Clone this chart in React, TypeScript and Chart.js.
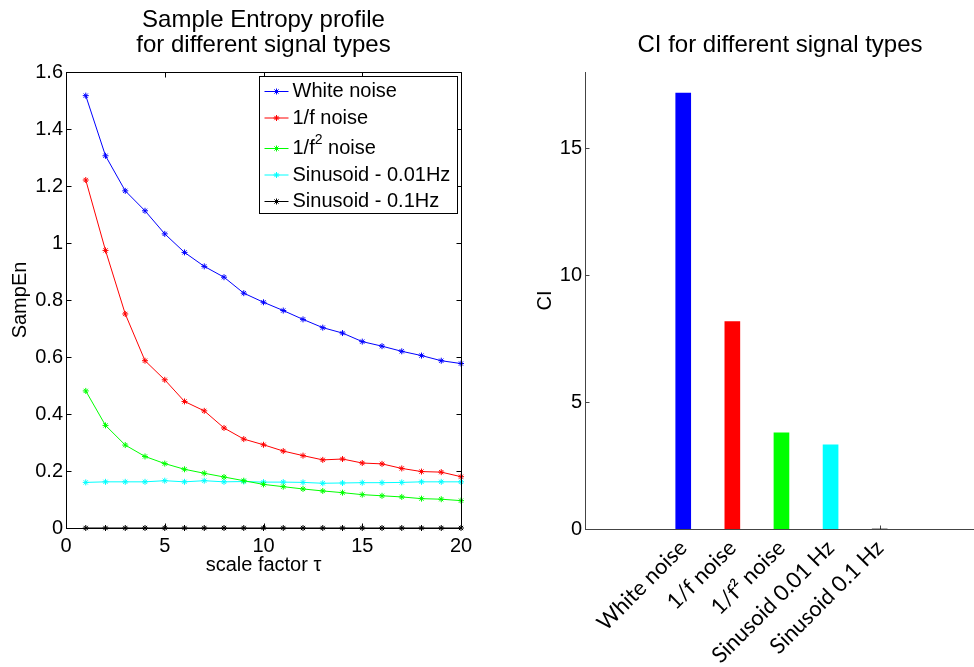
import React, { useEffect, useRef } from "react";
import { Chart, registerables } from "chart.js";
import { drawPoint } from "chart.js/helpers";

Chart.register(...registerables);

// ---------- data: Sample Entropy profile ----------
const SCALE_FACTORS = [1, 2, 3, 4, 5, 6, 7, 8, 9, 10, 11, 12, 13, 14, 15, 16, 17, 18, 19, 20];
const WHITE_NOISE = [1.517, 1.306, 1.183, 1.113, 1.032, 0.967, 0.918, 0.88, 0.824, 0.792, 0.763, 0.732, 0.703, 0.684, 0.654, 0.638, 0.62, 0.605, 0.587, 0.577];
const PINK_NOISE = [1.221, 0.974, 0.751, 0.587, 0.52, 0.444, 0.411, 0.351, 0.312, 0.292, 0.27, 0.254, 0.239, 0.242, 0.228, 0.225, 0.209, 0.198, 0.196, 0.18];
const BROWN_NOISE = [0.481, 0.36, 0.291, 0.251, 0.226, 0.206, 0.192, 0.179, 0.166, 0.153, 0.145, 0.137, 0.13, 0.124, 0.117, 0.113, 0.109, 0.103, 0.101, 0.096];
const SINE_001HZ = [0.16, 0.162, 0.162, 0.162, 0.166, 0.162, 0.166, 0.162, 0.163, 0.161, 0.161, 0.16, 0.157, 0.158, 0.159, 0.159, 0.16, 0.162, 0.162, 0.162];
const SINE_01HZ = [0, 0, 0, 0, 0, 0, 0, 0, 0, 0, 0, 0, 0, 0, 0, 0, 0, 0, 0, 0];
const SERIES_LABELS = ["White noise", "1/f noise", "1/f² noise", "Sinusoid - 0.01Hz", "Sinusoid - 0.1Hz"];
const SERIES_COLORS = ["#0000ff", "#ff0000", "#00ff00", "#00ffff", "#000000"];
const LEFT_X_TICKS = [0, 5, 10, 15, 20];
const LEFT_Y_TICKS = [0, 0.2, 0.4, 0.6, 0.8, 1, 1.2, 1.4, 1.6];
const LEFT_TITLE = ["Sample Entropy profile", "for different signal types"];

// ---------- data: CI ----------
const CI_CATEGORIES = ["White noise", "1/f noise", "1/f² noise", "Sinusoid 0.01 Hz", "Sinusoid 0.1 Hz"];
const CI_VALUES = [17.17, 8.17, 3.79, 3.32, 0];
const CI_Y_TICKS = [0, 5, 10, 15];
const RIGHT_TITLE = "CI for different signal types";

const ARIAL = "'Liberation Sans', Arial, sans-serif";
const CALIBRI_LIKE = "Lato, 'Open Sans', sans-serif";

Chart.defaults.font.family = ARIAL;
Chart.defaults.color = "#000";

const sampEnFrame = {
  id: "sampEnFrame",
  afterDraw(chart: any) {
    const { ctx, chartArea } = chart;
    const xs = chart.scales.x;
    const ys = chart.scales.y;
    const L = Math.round(chartArea.left) + 0.5;
    const R = Math.round(chartArea.right) + 0.5;
    const T = Math.round(chartArea.top) + 0.5;
    const B = Math.round(chartArea.bottom) + 0.5;
    ctx.save();

    // title, centred over the axes
    ctx.fillStyle = "#000";
    ctx.font = `24px ${ARIAL}`;
    ctx.textAlign = "center";
    ctx.textBaseline = "middle";
    const cx = (chartArea.left + chartArea.right) / 2;
    LEFT_TITLE.forEach((line, i) => ctx.fillText(line, cx, 20 + i * 25));

    ctx.strokeStyle = "#000";
    ctx.lineWidth = 1;
    ctx.beginPath();
    ctx.moveTo(L, T);
    ctx.lineTo(R, T);
    ctx.lineTo(R, B);
    ctx.stroke();
    const tl = 5;
    ctx.beginPath();
    for (const v of LEFT_X_TICKS) {
      const px = Math.round(xs.getPixelForValue(v)) + 0.5;
      ctx.moveTo(px, B);
      ctx.lineTo(px, B - tl);
      ctx.moveTo(px, T);
      ctx.lineTo(px, T + tl);
    }
    for (const v of LEFT_Y_TICKS) {
      const py = Math.round(ys.getPixelForValue(v)) + 0.5;
      ctx.moveTo(L, py);
      ctx.lineTo(L + tl, py);
      ctx.moveTo(R, py);
      ctx.lineTo(R - tl, py);
    }
    ctx.stroke();

    // legend inside the axes
    const w = 198;
    const h = 137;
    const x0 = Math.round(chartArea.right - 4 - w) + 0.5;
    const y0 = Math.round(chartArea.top + 4) + 0.5;
    ctx.fillStyle = "#fff";
    ctx.fillRect(x0, y0, w, h);
    ctx.strokeStyle = "#000";
    ctx.strokeRect(x0, y0, w, h);
    ctx.textBaseline = "middle";
    ctx.textAlign = "left";
    chart.data.datasets.forEach((ds: any, i: number) => {
      const y = y0 + 15 + i * 26.5 + (i >= 2 ? 4 : 0);
      ctx.strokeStyle = ds.borderColor;
      ctx.lineWidth = 1;
      ctx.beginPath();
      ctx.moveTo(x0 + 5, y);
      ctx.lineTo(x0 + 29, y);
      ctx.stroke();
      ctx.fillStyle = ds.borderColor;
      drawPoint(ctx, { pointStyle: "star", radius: 3, borderWidth: 1, rotation: 0 }, x0 + 17, y);
      ctx.fillStyle = "#000";
      const parts = String(ds.label).split("²");
      let tx = x0 + 33;
      ctx.font = `20px ${ARIAL}`;
      ctx.fillText(parts[0], tx, y);
      if (parts.length > 1) {
        tx += ctx.measureText(parts[0]).width;
        ctx.font = `14px ${ARIAL}`;
        ctx.fillText("2", tx, y - 8);
        tx += ctx.measureText("2").width;
        ctx.font = `20px ${ARIAL}`;
        ctx.fillText(parts[1], tx, y);
      }
    });
    ctx.restore();
  },
};

const ciDecor = {
  id: "ciDecor",
  beforeDatasetsDraw(chart: any) {
    const { ctx, chartArea } = chart;
    const xs = chart.scales.x;
    const ys = chart.scales.y;
    const L = Math.round(chartArea.left) + 0.5;
    const B = Math.round(chartArea.bottom) + 0.5;
    ctx.save();
    ctx.strokeStyle = "#444";
    ctx.lineWidth = 1;
    ctx.beginPath();
    for (const v of CI_Y_TICKS) {
      if (v === 0) continue;
      const py = Math.round(ys.getPixelForValue(v)) + 0.5;
      ctx.moveTo(L, py);
      ctx.lineTo(L + 4, py);
    }
    CI_CATEGORIES.forEach((_, i) => {
      const px = Math.round(xs.getPixelForValue(i)) + 0.5;
      ctx.moveTo(px, B);
      ctx.lineTo(px, B - 4);
    });
    ctx.stroke();
    ctx.restore();
  },
  afterDraw(chart: any) {
    const { ctx, chartArea } = chart;
    ctx.save();
    ctx.fillStyle = "#000";
    ctx.font = `24px ${ARIAL}`;
    ctx.textAlign = "center";
    ctx.textBaseline = "middle";
    ctx.fillText(RIGHT_TITLE, (chartArea.left + chartArea.right) / 2 + 1, 45);
    ctx.restore();
  },
};

function SampEnChart() {
  const ref = useRef<HTMLCanvasElement>(null);
  useEffect(() => {
    if (!ref.current) return;
    const series = [WHITE_NOISE, PINK_NOISE, BROWN_NOISE, SINE_001HZ, SINE_01HZ];
    const chart = new Chart(ref.current, {
      type: "line",
      data: {
        datasets: series.map((vals, i) => ({
          label: SERIES_LABELS[i],
          data: SCALE_FACTORS.map((x, j) => ({ x, y: vals[j] })),
          borderColor: SERIES_COLORS[i],
          backgroundColor: SERIES_COLORS[i],
          borderWidth: 1,
          pointStyle: "star",
          pointRadius: 3,
          pointBorderWidth: 1,
          pointBorderColor: SERIES_COLORS[i],
          tension: 0,
          clip: false,
        })),
      },
      options: {
        animation: false,
        responsive: false,
        events: [],
        layout: { padding: { left: 0, right: 19, top: 72, bottom: 23 } },
        plugins: {
          legend: { display: false },
          tooltip: { enabled: false },
          title: { display: false },
        },
        scales: {
          x: {
            type: "linear",
            min: 0,
            max: 20,
            afterBuildTicks: (s: any) => {
              s.ticks = LEFT_X_TICKS.map((v) => ({ value: v }));
            },
            afterFit: (s: any) => {
              s.height = 49;
            },
            grid: { display: false, drawTicks: false },
            border: { display: true, color: "#000", width: 1 },
            ticks: { padding: 6, maxRotation: 0, color: "#000", font: { family: ARIAL, size: 20 } },
            title: {
              display: true,
              text: "scale factor τ",
              color: "#000",
              font: { family: ARIAL, size: 20 },
              padding: { top: 0, bottom: 0 },
            },
          },
          y: {
            type: "linear",
            min: 0,
            max: 1.6,
            afterBuildTicks: (s: any) => {
              s.ticks = LEFT_Y_TICKS.map((v) => ({ value: v }));
            },
            afterFit: (s: any) => {
              s.width = 66;
            },
            grid: { display: false, drawTicks: false },
            border: { display: true, color: "#000", width: 1 },
            ticks: {
              padding: 3,
              color: "#000",
              font: { family: ARIAL, size: 20 },
              callback: (v: any) => String(Number(Number(v).toFixed(1))),
            },
            title: {
              display: true,
              text: "SampEn",
              color: "#000",
              font: { family: ARIAL, size: 20 },
              padding: { top: 8, bottom: 0 },
            },
          },
        },
      } as any,
      plugins: [sampEnFrame],
    });
    return () => chart.destroy();
  }, []);
  return (
    <canvas
      ref={ref}
      width={480}
      height={600}
      style={{ position: "absolute", left: 0, top: 0, width: 480, height: 600 }}
    />
  );
}

function CIChart() {
  const ref = useRef<HTMLCanvasElement>(null);
  useEffect(() => {
    if (!ref.current) return;
    const chart = new Chart(ref.current, {
      type: "bar",
      data: {
        datasets: [
          {
            label: "CI",
            data: CI_VALUES.map((v, i) => ({ x: i, y: v })),
            backgroundColor: SERIES_COLORS,
            borderWidth: 0,
            barThickness: 15,
          },
        ],
      },
      options: {
        animation: false,
        responsive: false,
        events: [],
        layout: { padding: { left: 0, right: 1, top: 72, bottom: 0 } },
        plugins: {
          legend: { display: false },
          tooltip: { enabled: false },
          title: { display: false },
        },
        scales: {
          x: {
            type: "linear",
            offset: false,
            min: -2,
            max: 5.9,
            afterBuildTicks: (s: any) => {
              s.ticks = CI_CATEGORIES.map((_, i) => ({ value: i }));
            },
            afterFit: (s: any) => {
              s.height = 138;
            },
            grid: { display: false, drawTicks: false },
            border: { display: true, color: "#444", width: 1 },
            ticks: {
              autoSkip: false,
              minRotation: 45,
              maxRotation: 45,
              padding: 6,
              color: "#000",
              font: { family: CALIBRI_LIKE, size: 22 },
              callback: (v: any) => CI_CATEGORIES[Math.round(Number(v))] ?? "",
            },
          },
          y: {
            type: "linear",
            min: 0,
            max: 18,
            afterBuildTicks: (s: any) => {
              s.ticks = CI_Y_TICKS.map((v) => ({ value: v }));
            },
            afterFit: (s: any) => {
              s.width = 55;
            },
            grid: { display: false, drawTicks: false },
            border: { display: true, color: "#444", width: 1 },
            ticks: { padding: 3, color: "#000", font: { family: ARIAL, size: 20 } },
            title: {
              display: true,
              text: "CI",
              color: "#000",
              font: { family: ARIAL, size: 20 },
              padding: { top: 3, bottom: 0 },
            },
          },
        },
      } as any,
      plugins: [ciDecor],
    });
    return () => chart.destroy();
  }, []);
  return (
    <canvas
      ref={ref}
      width={444}
      height={667}
      style={{ position: "absolute", left: 530, top: 0, width: 444, height: 667 }}
    />
  );
}

export default function App() {
  return (
    <div
      style={{
        position: "absolute",
        left: 0,
        top: 0,
        width: 974,
        height: 667,
        overflow: "hidden",
        background: "#fff",
      }}
    >
      <SampEnChart />
      <CIChart />
    </div>
  );
}
